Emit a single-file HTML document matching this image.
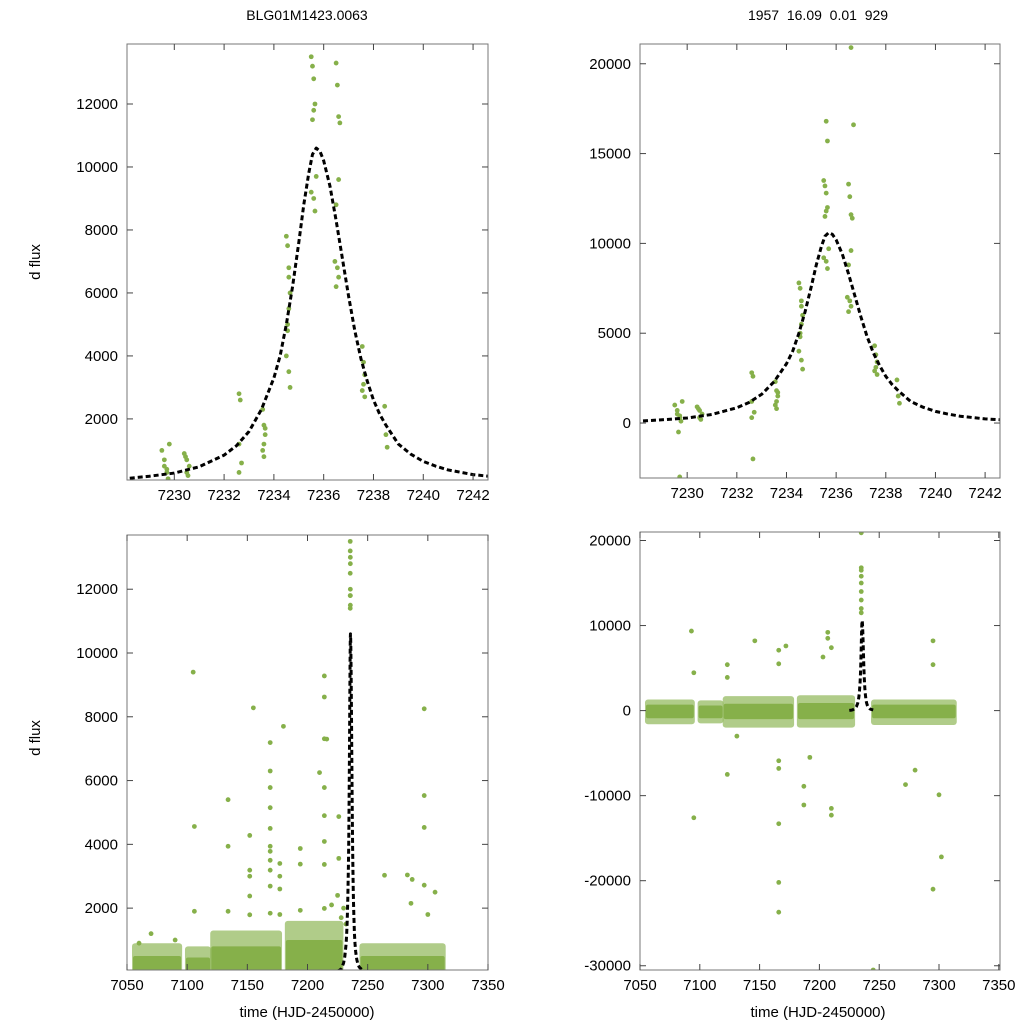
<!DOCTYPE html>
<html><head><meta charset="utf-8"><style>
body{margin:0;background:#fff;}
svg{display:block;font-family:"Liberation Sans",sans-serif;}
</style></head><body>
<svg id="chart" width="1024" height="1024" viewBox="0 0 1024 1024">
<text x="307" y="20" text-anchor="middle" font-size="14">BLG01M1423.0063</text>
<text x="818" y="20" text-anchor="middle" font-size="14" xml:space="preserve">1957  16.09  0.01  929</text>
<text transform="translate(40,262) rotate(-90)" text-anchor="middle" font-size="15">d flux</text>
<text transform="translate(40,738) rotate(-90)" text-anchor="middle" font-size="15">d flux</text>
<text x="307" y="1017" text-anchor="middle" font-size="15">time (HJD-2450000)</text>
<text x="818" y="1017" text-anchor="middle" font-size="15">time (HJD-2450000)</text>
</svg>
<script>
// zoomed event data (same for both top panels)
const zoomTimes = [7229.5,7229.6,7229.7,7229.8,7229.6,7229.7,7229.65,7229.75,7229.7,
 7230.4,7230.5,7230.6,7230.5,7230.45,7230.55,
 7232.6,7232.65,7232.6,7232.7,7232.6,7232.65,
 7233.55,7233.6,7233.65,7233.6,7233.55,7233.65,7233.6,
 7234.5,7234.55,7234.6,7234.65,7234.6,7234.55,7234.5,7234.6,7234.65,7234.55,7234.6,
 7235.5,7235.55,7235.6,7235.65,7235.6,7235.55,7235.5,7235.6,7235.65,7235.7,7235.6,7235.65,
 7236.5,7236.55,7236.6,7236.65,7236.6,7236.5,7236.45,7236.55,7236.6,7236.5,7236.6,7236.7,
 7237.55,7237.6,7237.65,7237.6,7237.55,7237.65,
 7238.45,7238.5,7238.55];
const zoomFlux = [1000,500,300,1200,700,400,-500,100,-3000,
 900,700,500,300,800,200,
 2800,2600,1200,600,300,-2000,
 2300,1800,1500,1200,1000,1700,800,
 7800,7500,6500,6000,5500,5000,4000,3500,3000,4800,6800,
 13500,13200,12800,12000,11800,11500,9200,9000,8600,9700,16800,15700,
 13300,12600,11600,11400,9600,8800,7000,6800,6500,6200,20900,16600,
 4300,3800,3400,3100,2900,2700,
 2400,1500,1100];
// model curve
const modelTimes = [7225,7226,7227,7228,7229,7230,7231,7232,7232.5,7233,7233.5,7234,7234.25,7234.5,7234.75,7235,7235.2,7235.4,7235.55,7235.7,7235.85,7236,7236.25,7236.5,7236.75,7237,7237.25,7237.5,7237.75,7238,7238.25,7238.5,7239,7239.5,7240,7240.5,7241,7242,7243,7245];
const modelFlux = [30,45,60,100,180,280,480,850,1150,1600,2300,3300,4000,5000,6200,7600,8800,9800,10400,10600,10500,10200,9400,8300,7100,5900,4800,3900,3200,2600,2150,1800,1200,880,650,500,380,230,150,80];
// full-season baseline bands
const bandStart = [7055,7099,7120,7182,7244];
const bandEnd = [7095,7119,7178,7229,7314];
const bandHighL = [500,450,800,1000,500];
const fringeHighL = [900,800,1300,1600,900];
const bandLowR = [-900,-900,-1000,-1000,-900];
const bandHighR = [700,600,800,900,700];
const fringeLowR = [-1600,-1500,-2000,-2000,-1700];
const fringeHighR = [1300,1200,1700,1800,1300];
// full-season outliers (left panel)
const fullTimesL = [7105,7106,7106,7155,7134,7134,7134,7180,7169,7169,7169,7169,7169,7169,7169,7169,7169,7169,7169,7152,7152,7152,7152,7152,7177,7177,7177,7177,7214,7214,7214,7214,7214,7214,7214,7214,7210,7216,7194,7194,7194,7226,7226,7297,7297,7297,7297,7264,7283,7287,7286,7306,7300,7060,7070,7090,7220,7225,7228,7230,7232,
 7235.5,7235.5,7235.6,7235.6,7235.5,7235.6,7235.5,7235.6,7235.5,7235.6];
const fullFluxL = [9400,4560,1900,8280,5400,3940,1900,7700,7190,6300,5780,5150,4500,3940,3780,3500,3190,2690,1840,4280,3190,3000,2380,1790,3400,3000,2600,1800,9280,8620,7310,5780,4900,4090,3370,1990,6250,7300,3870,3380,1930,4870,3560,8250,5530,4530,2720,3030,3040,2900,2150,2500,1800,900,1200,1000,2100,2400,1700,2000,1500,
 13500,13200,12800,12000,11800,11500,11400,11800,12500,13000];
// full-season outliers (right panel)
const fullTimesR = [7093,7095,7095,7123,7123,7123,7131,7146,7166,7166,7166,7166,7166,7166,7166,7172,7187,7187,7192,7207,7207,7210,7210,7210,7203,7295,7295,7300,7302,7295,7272,7280,7245,
 7235,7235,7235,7235,7235,7235,7235,7235,7235];
const fullFluxR = [9350,4450,-12600,5400,3900,-7500,-3000,8200,7100,5500,-13300,-20200,-23700,-6800,-5900,7600,-8900,-11100,-5500,9200,8500,7400,-11500,-12300,6300,8200,5400,-9900,-17200,-21000,-8700,-7000,-30500,
 20900,16800,16500,15800,15000,14000,13000,12000,11500];

const svg = document.getElementById('chart');
const NS = 'http://www.w3.org/2000/svg';
const GREEN = '#86b04a';
function mk(tag, attrs, parent){
  const e = document.createElementNS(NS, tag);
  for (const k in attrs) e.setAttribute(k, attrs[k]);
  parent.appendChild(e);
  return e;
}
let clipId = 0;
function panel(p){
  const g = mk('g', {}, svg);
  
  
  const sx = v => p.L + (v - p.xmin) / (p.xmax - p.xmin) * (p.R - p.L);
  const sy = v => p.B - (v - p.ymin) / (p.ymax - p.ymin) * (p.B - p.T);
  const cid = 'c' + (clipId++);
  const cp = mk('clipPath', {id: cid}, g);
  mk('rect', {x: p.L, y: p.T, width: p.R - p.L, height: p.B - p.T}, cp);
  const plot = mk('g', {'clip-path': 'url(#' + cid + ')'}, g);
  if (p.bands) {
    for (let i = 0; i < bandStart.length; i++) {
      const x0 = sx(bandStart[i]), w = sx(bandEnd[i]) - x0;
      const flo = p.fringeLow ? p.fringeLow[i] : p.ymin - 1000;
      const f = mk('rect', {x: x0 - 1, y: sy(p.fringeHigh[i]), width: w + 2, height: sy(flo) - sy(p.fringeHigh[i]), rx: 3, fill: GREEN, opacity: 0.65}, plot);
      
      
      const lo = p.bandLow ? p.bandLow[i] : p.ymin - 1000;
      const r = mk('rect', {x: x0, y: sy(p.bandHigh[i]), width: w, height: sy(lo) - sy(p.bandHigh[i]), rx: 2, fill: GREEN}, plot);
      
      
    }
  }
  for (let i = 0; i < p.times.length; i++) {
    const c = mk('circle', {cx: sx(p.times[i]), cy: sy(p.flux[i]), r: 2.4, fill: GREEN}, plot);
    
    
  }
  let d = '';
  for (let i = 0; i < modelTimes.length; i++) d += (i ? 'L' : 'M') + sx(modelTimes[i]).toFixed(2) + ',' + sy(modelFlux[i]).toFixed(2);
  const ml = mk('path', {d: d, fill: 'none', stroke: '#000', 'stroke-width': 3, 'stroke-dasharray': '5,3', 'stroke-linejoin': 'round'}, plot);
  
  
  const fr = mk('rect', {x: p.L, y: p.T, width: p.R - p.L, height: p.B - p.T, fill: 'none', stroke: '#777', 'stroke-width': 1}, g);
  
  
  p.xticks.forEach(v => {
    const x = sx(v);
    mk('line', {x1: x, x2: x, y1: p.B, y2: p.B - 6, stroke: '#444'}, g);
    mk('line', {x1: x, x2: x, y1: p.T, y2: p.T + 6, stroke: '#444'}, g);
    const t = mk('text', {x: x, y: p.B + 20, 'text-anchor': 'middle', 'font-size': 15}, g);
    t.textContent = v;
    
    
  });
  p.yticks.forEach(v => {
    const y = sy(v);
    mk('line', {x1: p.L, x2: p.L + 6, y1: y, y2: y, stroke: '#444'}, g);
    mk('line', {x1: p.R, x2: p.R - 6, y1: y, y2: y, stroke: '#444'}, g);
    const t = mk('text', {x: p.L - 9, y: y + 5, 'text-anchor': 'end', 'font-size': 15}, g);
    t.textContent = v;
    
    
  });
}
panel({name: 'panel-zoom-left', L: 127, R: 488, T: 44, B: 480, xmin: 7228.1, xmax: 7242.6, ymin: 60, ymax: 13905,
  xticks: [7230,7232,7234,7236,7238,7240,7242], yticks: [2000,4000,6000,8000,10000,12000], times: zoomTimes, flux: zoomFlux});
panel({name: 'panel-zoom-right', L: 640, R: 1000, T: 44, B: 478, xmin: 7228.1, xmax: 7242.6, ymin: -3060, ymax: 21100,
  xticks: [7230,7232,7234,7236,7238,7240,7242], yticks: [0,5000,10000,15000,20000], times: zoomTimes, flux: zoomFlux});
panel({name: 'panel-full-left', L: 127, R: 488, T: 535, B: 970, xmin: 7050, xmax: 7350, ymin: 60, ymax: 13700,
  xticks: [7050,7100,7150,7200,7250,7300,7350], yticks: [2000,4000,6000,8000,10000,12000], times: fullTimesL, flux: fullFluxL,
  bands: true, bandHigh: bandHighL, fringeHigh: fringeHighL});
panel({name: 'panel-full-right', L: 640, R: 1000, T: 532, B: 970, xmin: 7050, xmax: 7351, ymin: -30500, ymax: 21000,
  xticks: [7050,7100,7150,7200,7250,7300,7350], yticks: [-30000,-20000,-10000,0,10000,20000], times: fullTimesR, flux: fullFluxR,
  bands: true, bandHigh: bandHighR, bandLow: bandLowR, fringeHigh: fringeHighR, fringeLow: fringeLowR});
</script>
</body></html>
